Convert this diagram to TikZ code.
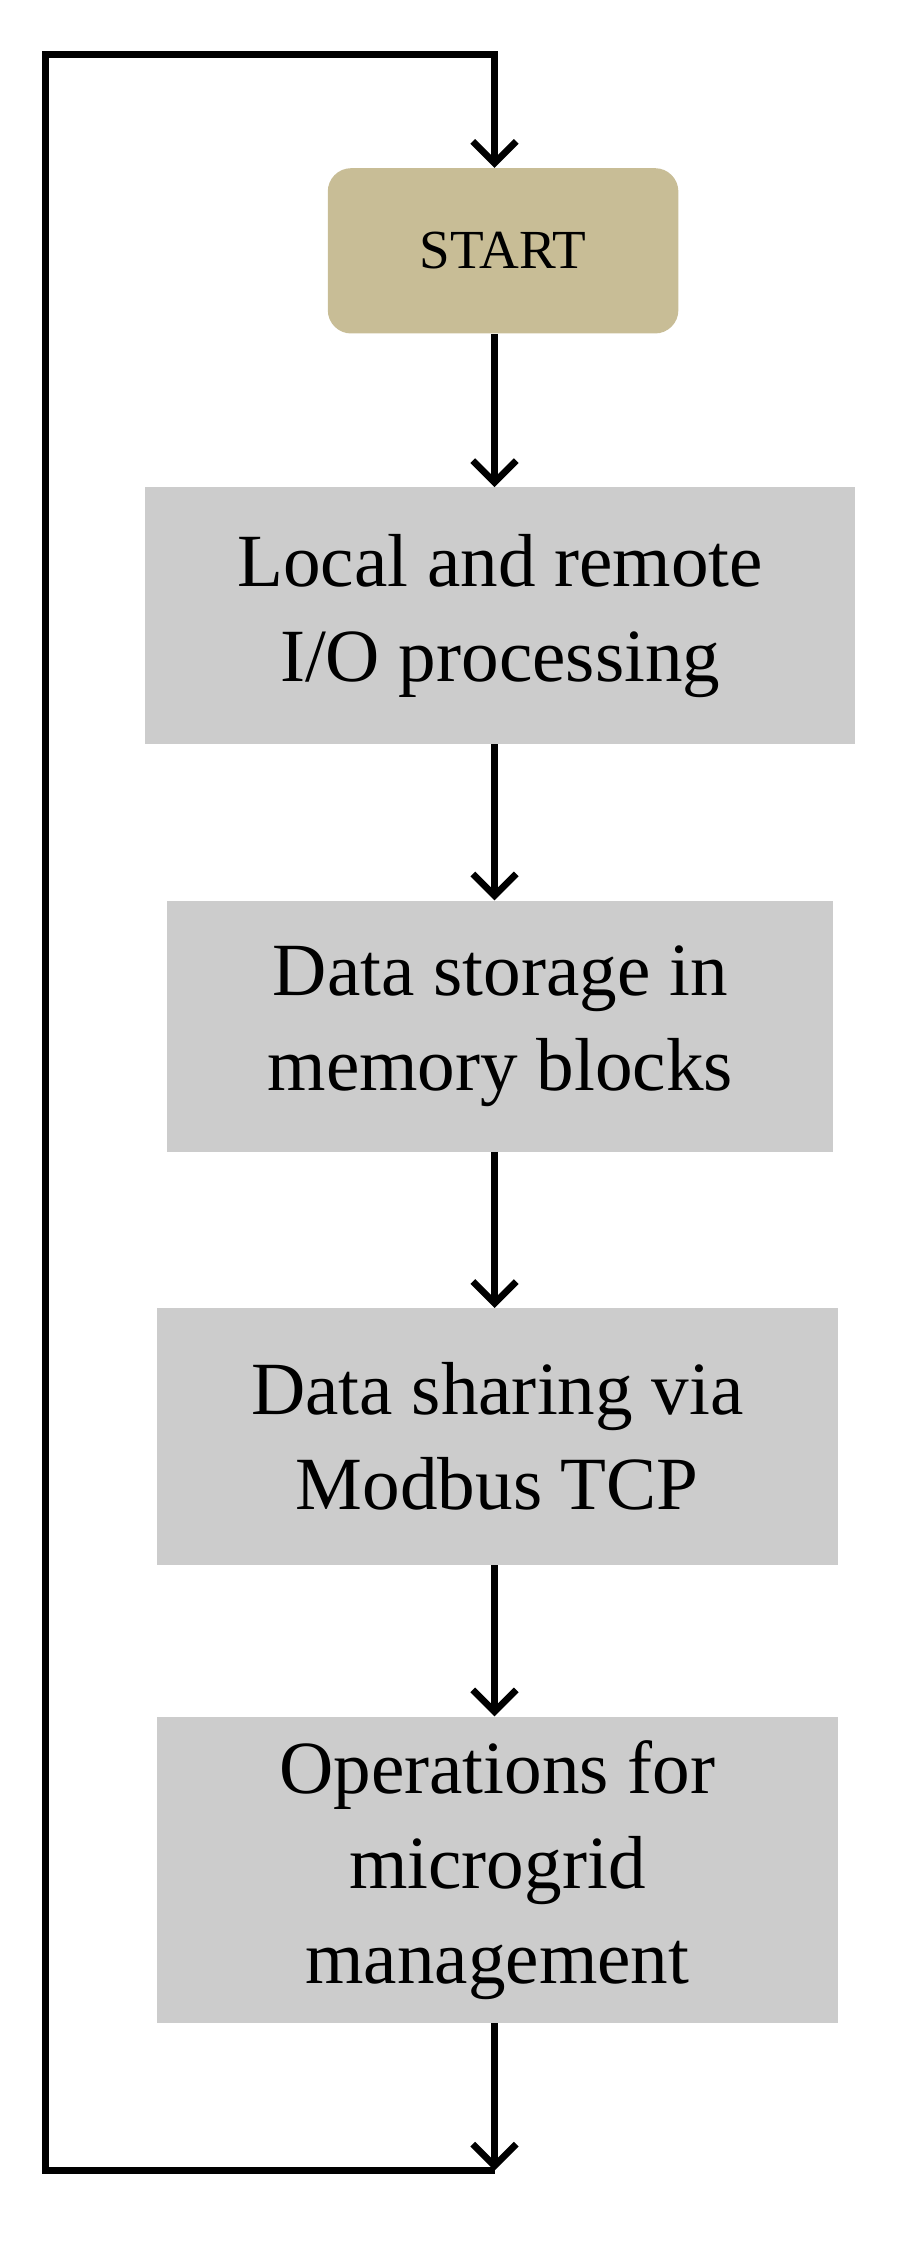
\documentclass[tikz,border=0pt]{standalone}
\usepackage{fontspec}
\setmainfont{Liberation Serif}
\usetikzlibrary{arrows.meta}
\begin{document}
\begin{tikzpicture}[x=0.03cm,y=-0.03cm,
  box/.style={fill=black!20,draw=none,inner sep=0pt,align=center,font=\fontsize{45}{57}\selectfont},
  ln/.style={line width=4.2pt},
  arr/.style={ln,-{Straight Barb[length=13pt,width=26pt,line width=4pt]}}]
\useasboundingbox (0,0) rectangle (640,1590);
\node[box,fill={rgb,255:red,200;green,189;blue,150},rounded corners=14pt,minimum width=246*0.03cm,minimum height=116*0.03cm,font=\fontsize{33}{38}\selectfont] (s) at (353,176) {START};
\node[box,minimum width=498*0.03cm,minimum height=180*0.03cm] (b1) at (351,432) {Local and remote\\I/O processing};
\node[box,minimum width=467*0.03cm,minimum height=176*0.03cm] (b2) at (351,720) {Data storage in\\memory blocks};
\node[box,minimum width=478*0.03cm,minimum height=180*0.03cm] (b3) at (349,1008) {Data sharing via\\Modbus TCP};
\node[box,minimum width=478*0.03cm,minimum height=215*0.03cm] (b4) at (349,1312) {Operations for\\microgrid\\management};
\coordinate (bl) at (32,1523);
\coordinate (br) at (347,1523);
\coordinate (tl) at (32,38);
\coordinate (tr) at (347,38);
\draw[arr] (s.south -| 347,0) -- (b1.north -| 347,0);
\draw[arr] (b1.south -| 347,0) -- (b2.north -| 347,0);
\draw[arr] (b2.south -| 347,0) -- (b3.north -| 347,0);
\draw[arr] (b3.south -| 347,0) -- (b4.north -| 347,0);
\draw[arr] (b4.south -| 347,0) -- (br);
\draw[ln,line join=miter] (br) -- (bl) -- (tl) -- (tr) -- ++(0,2);
\draw[arr] (tr) -- (s.north -| 347,0);
\end{tikzpicture}
\end{document}
